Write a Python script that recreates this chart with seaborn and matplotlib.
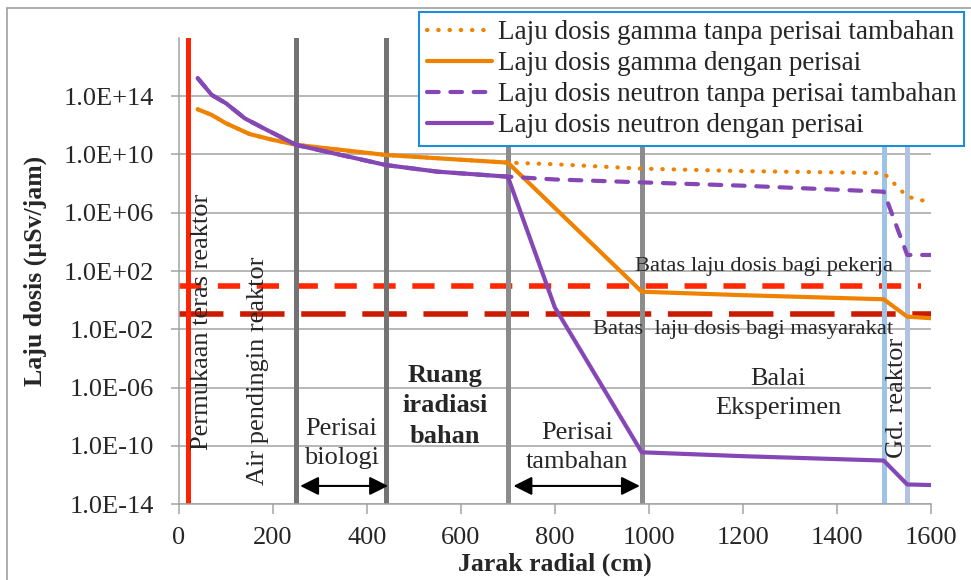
import matplotlib
matplotlib.use("Agg")
import matplotlib.pyplot as plt
import seaborn as sns
import pandas as pd
from matplotlib.ticker import FixedLocator, FuncFormatter, NullLocator
from matplotlib.lines import Line2D

# ---------------- data ----------------
x_gamma_tanpa = [40, 70, 100, 150, 195, 250, 440, 550, 700, 800, 985, 1200, 1500, 1550, 1600]
gamma_tanpa = [1.23e13, 5.0e12, 1.35e12, 2.5e11, 1.07e11, 4.5e10, 9.1e9, 5.4e9, 2.7e9,
               2.1e9, 1.05e9, 7.1e8, 5.2e8, 1.26e7, 5.0e6]

x_gamma_dengan = [40, 70, 100, 150, 195, 250, 440, 550, 700, 985, 1200, 1500, 1550, 1600]
gamma_dengan = [1.23e13, 5.0e12, 1.35e12, 2.5e11, 1.07e11, 4.5e10, 9.1e9, 5.4e9, 2.7e9,
                3.8, 2.2, 1.15, 0.074, 0.058]

x_neutron_tanpa = [40, 70, 100, 140, 180, 250, 440, 550, 700, 800, 985, 1200, 1500, 1550, 1600]
neutron_tanpa = [1.66e15, 1.17e14, 3.2e13, 2.95e12, 6.2e11, 4.4e10, 1.86e9, 6.5e8, 2.95e8,
                 1.9e8, 1.2e8, 7.1e7, 2.75e7, 1.26e3, 1.26e3]

x_neutron_dengan = [40, 70, 100, 140, 180, 250, 440, 550, 700, 800, 985, 1200, 1500, 1550, 1600]
neutron_dengan = [1.66e15, 1.17e14, 3.2e13, 2.95e12, 6.2e11, 4.4e10, 1.86e9, 6.5e8, 2.95e8,
                  0.32, 3.7e-11, 2.0e-11, 1.0e-11, 2.3e-13, 2.1e-13]

series_labels = ["Laju dosis gamma tanpa perisai tambahan",
                 "Laju dosis gamma dengan perisai",
                 "Laju dosis neutron tanpa perisai tambahan",
                 "Laju dosis neutron dengan perisai"]

batas_pekerja = 10.0
batas_masyarakat = 0.114
x_batas = [0, 1580]

x_teras = 20
x_perisai_biologi = [250, 440]
x_perisai_tambahan = [700, 985]
x_gedung = [1500, 1550]

y_ticks = [1e-14, 1e-10, 1e-6, 1e-2, 1e2, 1e6, 1e10, 1e14]

# ---------------- style ----------------
sns.set_style("white")
plt.rcParams['font.family'] = ['Liberation Serif', 'DejaVu Serif']
FS = 19
plt.rcParams['font.size'] = FS

ORANGE = "#EF8200"
PURPLE = "#8547B5"
GRID = "#A3A3A3"

fig = plt.figure(figsize=(9.71, 5.80), dpi=100)
ax = fig.add_axes([0.1843, 0.1305, 0.7742, 0.8045])
ax.set_yscale('log')
ax.set_xlim(0, 1600)
ax.set_ylim(1e-14, 1e18)

# horizontal grid
ax.yaxis.set_major_locator(FixedLocator(y_ticks))
ax.yaxis.set_minor_locator(NullLocator())
ax.grid(axis='y', color=GRID, lw=1.1, zorder=0)
ax.grid(axis='x', visible=False)
ax.set_axisbelow(True)

# limit lines
ax.plot(x_batas, [batas_pekerja] * 2, color="#FF2600", lw=4.0,
        linestyle=(0, (4, 3)), zorder=1)
ax.plot([0, 1600], [batas_masyarakat] * 2, color="#CC1A00", lw=4.0,
        linestyle=(0, (8, 3)), zorder=1)

# vertical region lines
ax.axvline(x_teras, color="#FF2200", lw=3.6, zorder=2)
for xv in x_perisai_biologi:
    ax.axvline(xv, color="#737373", lw=3.6, zorder=2)
for xv in x_perisai_tambahan:
    ax.axvline(xv, color="#8C8C8C", lw=3.6, zorder=2)
ax.axvline(x_gedung[0], color="#9DC3E6", lw=3.6, zorder=2)
ax.axvline(x_gedung[1], color="#B1C3DF", lw=3.6, zorder=2)

# data series
specs = [
    (x_gamma_tanpa, gamma_tanpa, ORANGE, (0, (0.1, 2.6))),
    (x_gamma_dengan, gamma_dengan, ORANGE, '-'),
    (x_neutron_tanpa, neutron_tanpa, PURPLE, (0, (2.8, 2.8))),
    (x_neutron_dengan, neutron_dengan, PURPLE, '-'),
]
handles = []
for (xs, ys, col, ls), lab in zip(specs, series_labels):
    df = pd.DataFrame({"x": xs, "y": ys})
    n0 = len(ax.lines)
    sns.lineplot(data=df, x="x", y="y", ax=ax, color=col, lw=3.0,
                 estimator=None, sort=False, legend=False, zorder=3)
    ln = ax.lines[n0]
    ln.set_linestyle(ls)
    ln.set_dash_capstyle('round')
    ln.set_solid_capstyle('round')
    ln.set_solid_joinstyle('round')
    handles.append(Line2D([], [], color=col, lw=3.0, linestyle=ls,
                          dash_capstyle='round', solid_capstyle='round'))

# ticks & labels
ax.xaxis.set_major_locator(FixedLocator(range(0, 1601, 200)))
ax.yaxis.set_major_formatter(FuncFormatter(lambda v, p: f"{v:.1E}"))
ax.tick_params(axis='y', which='major', left=True, length=6, width=1.1,
               color=GRID, pad=12, labelsize=FS)
ax.tick_params(axis='x', which='major', bottom=True, length=7, width=1.1,
               color=GRID, pad=9, labelsize=FS)
for s in ['top', 'right']:
    ax.spines[s].set_visible(False)
for s in ['left', 'bottom']:
    ax.spines[s].set_color(GRID)
    ax.spines[s].set_linewidth(1.1)
ax.set_xlabel("Jarak radial (cm)", fontsize=18.5, fontweight='bold', labelpad=3)
ax.set_ylabel("Laju dosis (µSv/jam)", fontsize=18.5, fontweight='bold', labelpad=12)

# annotations
LS = 1.4
ax.text(50, 10**-10.3, "Permukaan teras reaktor", rotation=90, ha='center',
        va='bottom', fontsize=FS, zorder=5)
ax.text(168, 10**-12.7, "Air pendingin reaktor", rotation=90, ha='center',
        va='bottom', fontsize=FS, zorder=5)
ax.text(346, 10**-9.85, "Perisai\nbiologi", ha='center', va='center',
        fontsize=FS, linespacing=LS, zorder=5)
ax.text(566, 10**-7.25, "Ruang\niradiasi\nbahan", ha='center', va='center',
        fontsize=FS, fontweight='bold', linespacing=LS, zorder=5)
ax.text(847, 10**-10.1, "Perisai\ntambahan", ha='center', va='center',
        fontsize=FS, linespacing=LS, zorder=5)
ax.text(1275, 10**-6.4, "Balai\nEksperimen", ha='center', va='center',
        fontsize=FS, linespacing=LS, zorder=5)
ax.text(1528, 10**-6.71, "Gd. reaktor", rotation=90, ha='center', va='center',
        fontsize=FS, zorder=5)
ax.text(1245, 10**2.29, "Batas laju dosis bagi pekerja", ha='center', va='center',
        fontsize=16.2, zorder=5)
ax.text(1201, 10**-2.03, "Batas  laju dosis bagi masyarakat", ha='center', va='center',
        fontsize=16.2, zorder=5)

arrow_y = 10**-12.74
for x0, x1 in [(258, 445), (712, 981)]:
    ax.annotate("", xy=(x1, arrow_y), xytext=(x0, arrow_y),
                arrowprops=dict(arrowstyle='<|-|>', color='black', lw=1.5,
                                mutation_scale=28, shrinkA=0, shrinkB=0),
                zorder=5)

# legend
leg = ax.legend(handles, series_labels, loc='upper left',
                bbox_to_anchor=(419 / 971, 1 - 12 / 580),
                bbox_transform=fig.transFigure, borderaxespad=0,
                fontsize=19.5, frameon=True, fancybox=False, framealpha=1,
                edgecolor="#1E8CD6", handlelength=2.4, handletextpad=0.2,
                labelspacing=0.22, borderpad=0.3)
leg.get_frame().set_linewidth(1.5)
leg.set_zorder(10)

# outer chart border (left and top)
fig.add_artist(Line2D([7 / 971, 7 / 971], [0, 1 - 8 / 580], transform=fig.transFigure,
                      color="#A0A0A0", lw=1.2))
fig.add_artist(Line2D([7 / 971, 1], [1 - 8 / 580, 1 - 8 / 580], transform=fig.transFigure,
                      color="#A0A0A0", lw=1.2))

fig.savefig("out.png", dpi=100)
